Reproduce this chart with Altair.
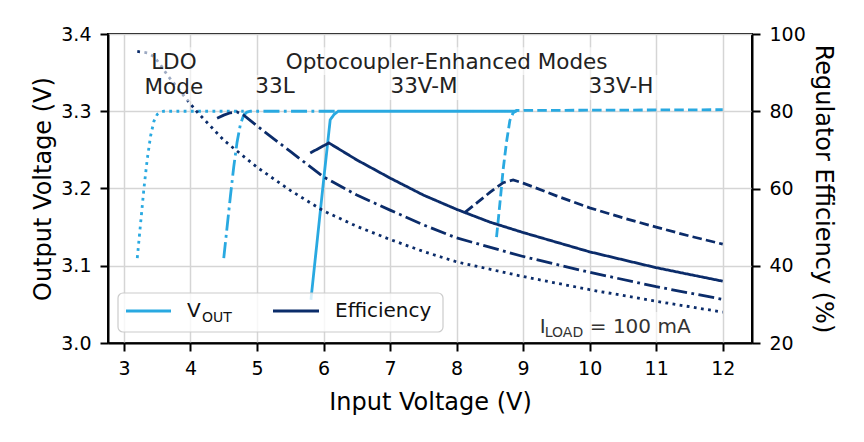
import altair as alt
import pandas as pd

FONT = "DejaVu Sans"
BLUE = "#29A9E1"
NAVY = "#0B2C6A"

modes = ["LDO", "33L", "33V-M", "33V-H"]
dash_patterns = [[2.8, 4.4], [16, 4.4, 2.8, 4.4], [1, 0], [9.5, 4.2]]

# Output voltage per mode (input V, output V)
vin_ldo = [3.2, 3.25, 3.3, 3.35, 3.4, 3.45, 3.5, 3.55, 3.6, 4.8]
vout_ldo = [3.11, 3.155, 3.2, 3.238, 3.268, 3.287, 3.296, 3.299, 3.3, 3.3]
vin_33l = [4.5, 4.55, 4.6, 4.65, 4.7, 4.75, 4.8, 4.85, 4.9, 6.2]
vout_33l = [3.11, 3.15, 3.19, 3.228, 3.26, 3.283, 3.295, 3.299, 3.3, 3.3]
vin_33vm = [5.81, 5.9, 6.0, 6.1, 6.16, 6.22, 8.9]
vout_33vm = [3.056, 3.129, 3.21, 3.289, 3.296, 3.3, 3.3]
vin_33vh = [8.6, 8.65, 8.7, 8.75, 8.8, 8.85, 8.9, 12.0]
vout_33vh = [3.137, 3.18, 3.225, 3.26, 3.288, 3.298, 3.301, 3.302]

# Regulator efficiency per mode (input V, %)
eff_vin_ldo = [3.2, 3.35, 3.45, 3.55, 3.65, 3.9, 4.1, 4.5, 5.0, 5.5, 6.0, 6.5, 7.0,
               7.5, 8.0, 9.0, 10.0, 11.0, 12.0]
eff_ldo = [95.5, 95.1, 94.2, 92.0, 89.4, 84.0, 79.8, 72.5, 65.5, 59.5, 54.2, 50.2, 46.8,
           43.7, 41.0, 37.2, 33.8, 30.8, 28.0]
eff_vin_33l = [4.4, 4.5, 4.6, 4.7, 4.8, 5.0, 5.5, 6.0, 6.5, 7.0, 7.5, 8.0, 9.0, 10.0, 11.0, 12.0]
eff_33l = [78.2, 79.0, 79.6, 79.8, 79.0, 76.2, 69.6, 63.0, 58.3, 54.4, 50.6, 47.2, 42.4, 38.3,
           34.6, 31.3]
eff_vin_33vm = [5.8, 6.08, 6.5, 7.0, 7.5, 8.0, 8.5, 9.0, 10.0, 11.0, 12.0]
eff_33vm = [69.2, 71.8, 67.4, 62.7, 58.3, 54.6, 51.3, 48.6, 43.6, 39.5, 36.0]
eff_vin_33vh = [8.13, 8.3, 8.5, 8.7, 8.85, 9.0, 9.5, 10.0, 10.5, 11.0, 11.5, 12.0]
eff_33vh = [53.9, 56.2, 59.0, 61.5, 62.2, 61.4, 58.1, 55.0, 52.4, 50.0, 47.7, 45.6]

x_ticks = [3, 4, 5, 6, 7, 8, 9, 10, 11, 12]
vout_ticks = [3.0, 3.1, 3.2, 3.3, 3.4]
eff_ticks = [20, 40, 60, 80, 100]

# Mode labels above the curves
note_text = ["LDO", "Mode", "Optocoupler-Enhanced Modes", "33L", "33V-M", "33V-H"]
note_x = [3.75, 3.75, 7.85, 5.27, 7.51, 10.47]
note_y = [3.355, 3.322, 3.355, 3.323, 3.323, 3.323]

# Semi-transparent label backgrounds
box_x = [3.24, 5.32, 4.94, 6.94, 9.90, 9.18]
box_x2 = [4.26, 10.38, 5.60, 8.08, 11.04, 11.51]
box_y = [3.313, 3.347, 3.3146, 3.3146, 3.3146, 3.003]
box_y2 = [3.383, 3.383, 3.347, 3.347, 3.347, 3.040]

load_x = 9.25
load_y = 3.013


def frame(xs, ys, mode):
    return pd.DataFrame({"vin": xs, "val": ys, "mode": mode})


vout_df = pd.concat([
    frame(vin_ldo, vout_ldo, "LDO"),
    frame(vin_33l, vout_33l, "33L"),
    frame(vin_33vm, vout_33vm, "33V-M"),
    frame(vin_33vh, vout_33vh, "33V-H"),
])
eff_df = pd.concat([
    frame(eff_vin_ldo, eff_ldo, "LDO"),
    frame(eff_vin_33l, eff_33l, "33L"),
    frame(eff_vin_33vm, eff_33vm, "33V-M"),
    frame(eff_vin_33vh, eff_33vh, "33V-H"),
])

x_scale = alt.Scale(domain=[2.76, 12.44], nice=False, zero=False)
vout_scale = alt.Scale(domain=[3.0, 3.4], nice=False, zero=False)
eff_scale = alt.Scale(domain=[20, 100], nice=False, zero=False)
dash_scale = alt.Scale(domain=modes, range=dash_patterns)

x_axis = alt.Axis(values=x_ticks, format="d", title="Input Voltage (V)", grid=True,
                  labelPadding=8, titlePadding=12)


def xenc(field):
    return alt.X(field, type="quantitative", scale=x_scale, axis=x_axis)


vout_lines = alt.Chart(vout_df).mark_line(color=BLUE, strokeWidth=2.8).encode(
    x=xenc("vin"),
    y=alt.Y("val:Q", scale=vout_scale,
            axis=alt.Axis(values=vout_ticks, format=".1f", title="Output Voltage (V)",
                          orient="left", grid=True, labelPadding=9, titlePadding=5)),
    strokeDash=alt.StrokeDash("mode:N", scale=dash_scale, legend=None),
    detail="mode:N",
)

eff_lines = alt.Chart(eff_df).mark_line(color=NAVY, strokeWidth=2.8).encode(
    x=xenc("vin"),
    y=alt.Y("val:Q", scale=eff_scale,
            axis=alt.Axis(values=eff_ticks, format="d", title="Regulator Efficiency (%)",
                          orient="right", grid=False, labelPadding=9, titlePadding=5)),
    strokeDash=alt.StrokeDash("mode:N", scale=dash_scale, legend=None),
    detail="mode:N",
)

boxes_df = pd.DataFrame({"x": box_x, "x2": box_x2, "y": box_y, "y2": box_y2})
boxes = alt.Chart(boxes_df).mark_rect(color="white", opacity=0.6).encode(
    x=xenc("x"),
    x2="x2:Q",
    y=alt.Y("y:Q", scale=vout_scale, axis=None),
    y2="y2:Q",
)

notes_df = pd.DataFrame({"text": note_text, "x": note_x, "y": note_y})
notes = alt.Chart(notes_df).mark_text(
    font=FONT, fontSize=21.5, align="center", baseline="alphabetic", color="#222222"
).encode(
    x=xenc("x"),
    y=alt.Y("y:Q", scale=vout_scale, axis=None),
    text="text:N",
)

load_df = pd.DataFrame({"x": [load_x], "y": [load_y]})


def load_part(text, size, dx, dy):
    return alt.Chart(load_df).mark_text(
        font=FONT, fontSize=size, align="left", baseline="alphabetic", dx=dx, dy=dy,
        color="#333333", text=text,
    ).encode(
        x=xenc("x"),
        y=alt.Y("y:Q", scale=vout_scale, axis=None),
    )


load_note = alt.layer(
    load_part("I", 20, 0, 0),
    load_part("LOAD", 14, 5, 4),
    load_part("= 100 mA", 20, 50, 0),
)

annotations = alt.layer(boxes, notes, load_note)

# Legend drawn in the lower left of the plot area
one = pd.DataFrame({"k": [0]})
legend_box = alt.Chart(one).mark_rect(
    fill="white", fillOpacity=0.8, stroke="#cccccc", strokeWidth=1.2, cornerRadius=5
).encode(x=alt.value(10), x2=alt.value(335), y=alt.value(259), y2=alt.value(298))
legend_vout = alt.Chart(one).mark_rule(color=BLUE, strokeWidth=3).encode(
    x=alt.value(18), x2=alt.value(63), y=alt.value(277))
legend_eff = alt.Chart(one).mark_rule(color=NAVY, strokeWidth=3).encode(
    x=alt.value(165), x2=alt.value(211), y=alt.value(277))


def legend_text(text, size, x, y):
    return alt.Chart(one).mark_text(
        font=FONT, fontSize=size, align="left", baseline="alphabetic", color="#111111",
        text=text,
    ).encode(x=alt.value(x), y=alt.value(y))


legend = alt.layer(
    legend_box, legend_vout, legend_eff,
    legend_text("V", 20, 79, 283),
    legend_text("OUT", 14, 94, 288),
    legend_text("Efficiency", 20, 227, 283),
)

chart = alt.layer(vout_lines, eff_lines, annotations, legend).resolve_scale(
    y="independent"
).properties(
    width=644, height=309,
    background="white",
    autosize=alt.AutoSizeParams(type="none"),
    padding={"left": 108, "top": 34, "right": 112, "bottom": 99},
).configure_view(
    stroke="black", strokeWidth=2
).configure_axis(
    labelFont=FONT, labelFontSize=19, labelColor="black",
    titleFont=FONT, titleFontSize=24, titleFontWeight="normal", titleColor="black",
    domainColor="black", domainWidth=2, tickColor="black", tickWidth=2, tickSize=8,
    gridColor="#d5d5d5", gridWidth=1.5,
)

chart.save("out.html", embed_options={"renderer": "svg", "actions": False})
